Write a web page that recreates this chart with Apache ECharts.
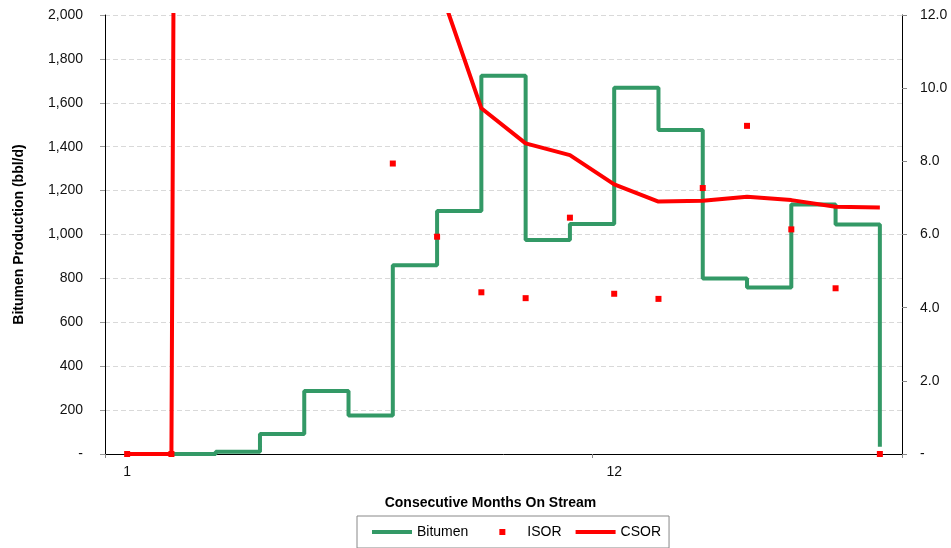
<!DOCTYPE html>
<html>
<head>
<meta charset="utf-8">
<script src="https://cdn.jsdelivr.net/npm/echarts@6/dist/echarts.min.js"></script>
<style>
    html, body { margin: 0; padding: 0; background: #fff; }
    #chart { width: 951px; height: 548px; }
</style>
</head>
<body>
<div id="chart"></div>
<script>
// months on stream
const months = ['1', '2', '3', '4', '5', '6', '7', '8', '9', '10', '11', '12', '13', '14', '15', '16', '17', '18'];
// bbl/d
const bitumen = [0, 0, 10, 91, 287, 175, 860, 1107, 1723, 975, 1048, 1669, 1476, 800, 758, 1137, 1046, 33];
// instantaneous SOR (months 3-6 are off the chart)
const isor = [0, 0, null, null, null, null, 7.94, 5.94, 4.42, 4.26, 6.46, 4.38, 4.24, 7.27, 8.97, 6.14, 4.53, 0];
// cumulative SOR
const csor = [0, 0, 265, 80, 35, 25, 17, 12.95, 9.45, 8.49, 8.17, 7.37, 6.9, 6.92, 7.03, 6.94, 6.76, 6.74];

const FONT = "'Liberation Sans', Arial, sans-serif";
const GREEN = '#339966';
const RED = '#ff0000';

const chart = echarts.init(document.getElementById('chart'));

const option = {
    animation: false,
    textStyle: { fontFamily: FONT },
    grid: { left: 105, right: 49, top: 15, bottom: 94 },
    legend: {
        left: 357,
        top: 516,
        padding: [9, 8, 9, 15],
        itemGap: 14,
        itemWidth: 40,
        itemHeight: 14,
        borderColor: '#888',
        borderWidth: 1,
        borderRadius: 0,
        textStyle: { fontFamily: FONT, fontSize: 14, color: '#000' },
        data: [
            { name: 'Bitumen', icon: 'path://M0,0h40v4h-40z' },
            { name: 'ISOR', icon: 'path://M0,0h0.01v0.01h-0.01z M17,4h6v6h-6z M39.99,13.99h0.01v0.01h-0.01z' },
            { name: 'CSOR', icon: 'path://M0,0h40v4h-40z' },
        ],
    },
    xAxis: {
        type: 'category',
        data: months,
        boundaryGap: true,
        name: 'Consecutive Months On Stream',
        nameLocation: 'middle',
        nameGap: 42,
        nameTextStyle: {
            fontFamily: FONT, fontSize: 14, fontWeight: 'bold', color: '#000',
            padding: [0, 26, 0, 0],
        },
        axisLine: { lineStyle: { color: '#000', width: 1 } },
        axisTick: { show: true, interval: 10, length: 4, lineStyle: { color: '#888' } },
        axisLabel: { interval: 10, margin: 11, fontSize: 14, color: '#111' },
        splitLine: { show: false },
    },
    yAxis: [
        {
            type: 'value',
            min: 0,
            max: 2000,
            interval: 200,
            name: 'Bitumen Production (bbl/d)',
            nameLocation: 'middle',
            nameGap: 79,
            nameTextStyle: { fontFamily: FONT, fontSize: 14, fontWeight: 'bold', color: '#000' },
            axisLine: { show: true, lineStyle: { color: '#000', width: 1 } },
            axisTick: { show: true, length: 5, lineStyle: { color: '#999' } },
            axisLabel: {
                margin: 22,
                fontSize: 14,
                color: '#111',
                formatter: (v) => (v === 0 ? '-' : v.toLocaleString('en-US')),
            },
            splitLine: { show: true, lineStyle: { color: '#d9d9d9', type: [5, 3] } },
        },
        {
            type: 'value',
            min: 0,
            max: 12,
            interval: 2,
            position: 'right',
            axisLine: { show: true, lineStyle: { color: '#000', width: 1 } },
            axisTick: { show: true, length: 5, lineStyle: { color: '#888' } },
            axisLabel: {
                margin: 18,
                fontSize: 14,
                color: '#111',
                formatter: (v) => (v === 0 ? '-' : v.toFixed(1)),
            },
            splitLine: { show: false },
        },
    ],
    series: [
        {
            name: 'Bitumen',
            type: 'line',
            step: 'end',
            yAxisIndex: 0,
            data: bitumen,
            showSymbol: false,
            symbol: 'none',
            color: GREEN,
            lineStyle: { color: GREEN, width: 4 },
            z: 2,
        },
        {
            name: 'ISOR',
            type: 'scatter',
            yAxisIndex: 1,
            data: isor,
            symbol: 'rect',
            symbolSize: 6,
            color: RED,
            itemStyle: { color: RED, opacity: 1 },
            z: 4,
        },
        {
            name: 'CSOR',
            type: 'line',
            yAxisIndex: 1,
            data: csor,
            showSymbol: false,
            symbol: 'none',
            color: RED,
            lineStyle: { color: RED, width: 4 },
            z: 3,
        },
    ],
};

option && chart.setOption(option);
</script>
</body>
</html>
